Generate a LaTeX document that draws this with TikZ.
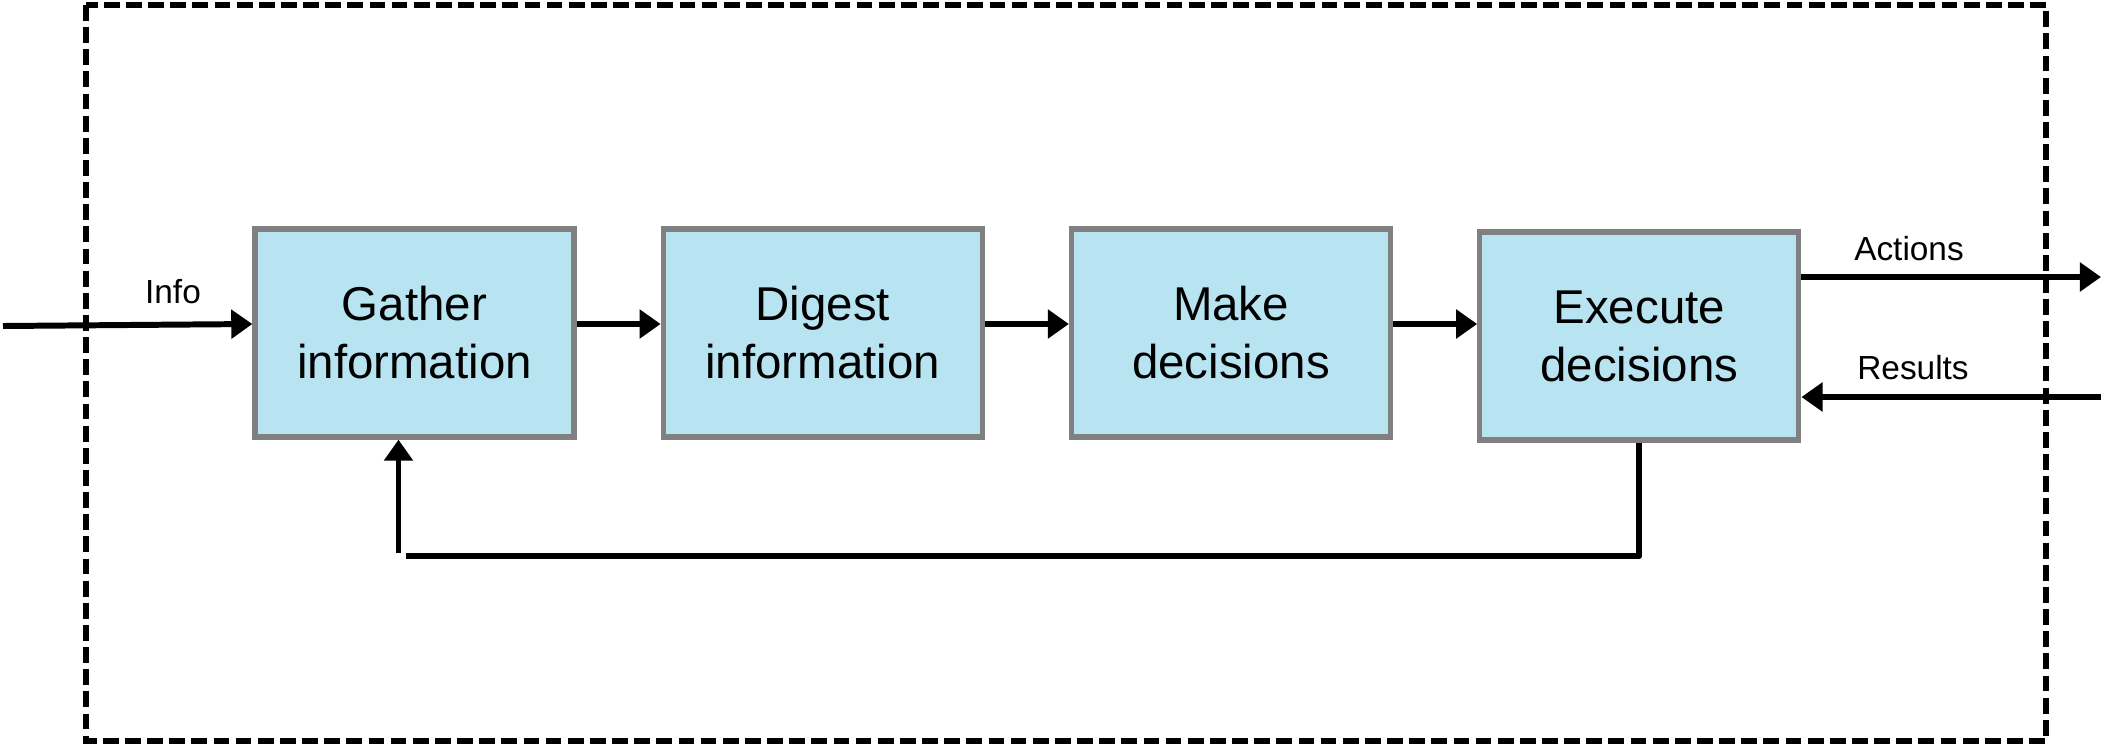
\documentclass[tikz,border=0pt]{standalone}
\usepackage{fontspec}
\setmainfont{Liberation Sans}
\usetikzlibrary{positioning,arrows.meta}
\definecolor{boxblue}{RGB}{183,228,240}
\definecolor{boxgray}{RGB}{128,128,128}

\begin{document}
\begin{tikzpicture}
                        \tikzstyle{stage}=[draw=boxgray, line width=1.5pt, fill=boxblue, minimum width=3.19cm, minimum height=2.08cm, align=center, font=\fontsize{13.5}{16.5}\selectfont]
                        \tikzstyle{flow}=[line width=1.7pt, -{Triangle[length=6pt,width=8pt]}]
                        \tikzstyle{lbl}=[font=\fontsize{9.5}{11}\selectfont]
                        \useasboundingbox (0,0) rectangle (21.01,-7.50);
                        \draw[line width=1.5pt, dash pattern=on 4.5pt off 1.8pt] (0.86,-0.05) rectangle (20.46,-7.41);
                        \node[stage] (gather) at (4.145,-3.33) {Gather\\information};
                        \node[stage, right=0.84cm of gather] (digest) {Digest\\information};
                        \node[stage, right=0.84cm of digest] (decide) {Make\\decisions};
                        \node[stage, right=0.84cm of decide, yshift=-0.03cm] (execute) {Execute\\decisions};
                        \coordinate (infoin) at (0.03,-3.26);
                        \coordinate (actout) at (21.01,-2.77);
                        \coordinate (resin) at (21.01,-3.97);
                        \coordinate (loopr) at (execute.south |- 0,-5.56);
                        \coordinate (loopl) at (4.06,-5.56);
                        \coordinate (loopup) at ([xshift=-0.16cm]gather.south |- 0,-5.53);
                        \draw[flow] (infoin) -- ([yshift=0.09cm]gather.west);
                        \draw[flow] ([yshift=0.09cm]gather.east) -- ([yshift=0.09cm]digest.west);
                        \draw[flow] ([yshift=0.09cm]digest.east) -- ([yshift=0.09cm]decide.west);
                        \draw[flow] ([yshift=0.09cm]decide.east) -- ([yshift=0.12cm]execute.west);
                        \draw[flow] ([yshift=0.59cm]execute.east) -- (actout);
                        \draw[flow] (resin) -- ([yshift=-0.61cm]execute.east);
                        \draw[line width=1.7pt, line join=round] (execute.south) -- (loopr) -- (loopl);
                        \draw[flow] (loopup) -- ([xshift=-0.16cm]gather.south);
                        \node[lbl] (infolbl) at (1.73,-2.92) {Info};
                        \node[lbl] (actlbl) at (19.09,-2.49) {Actions};
                        \node[lbl] (reslbl) at (19.13,-3.68) {Results};
                    \end{tikzpicture}
\end{document}
